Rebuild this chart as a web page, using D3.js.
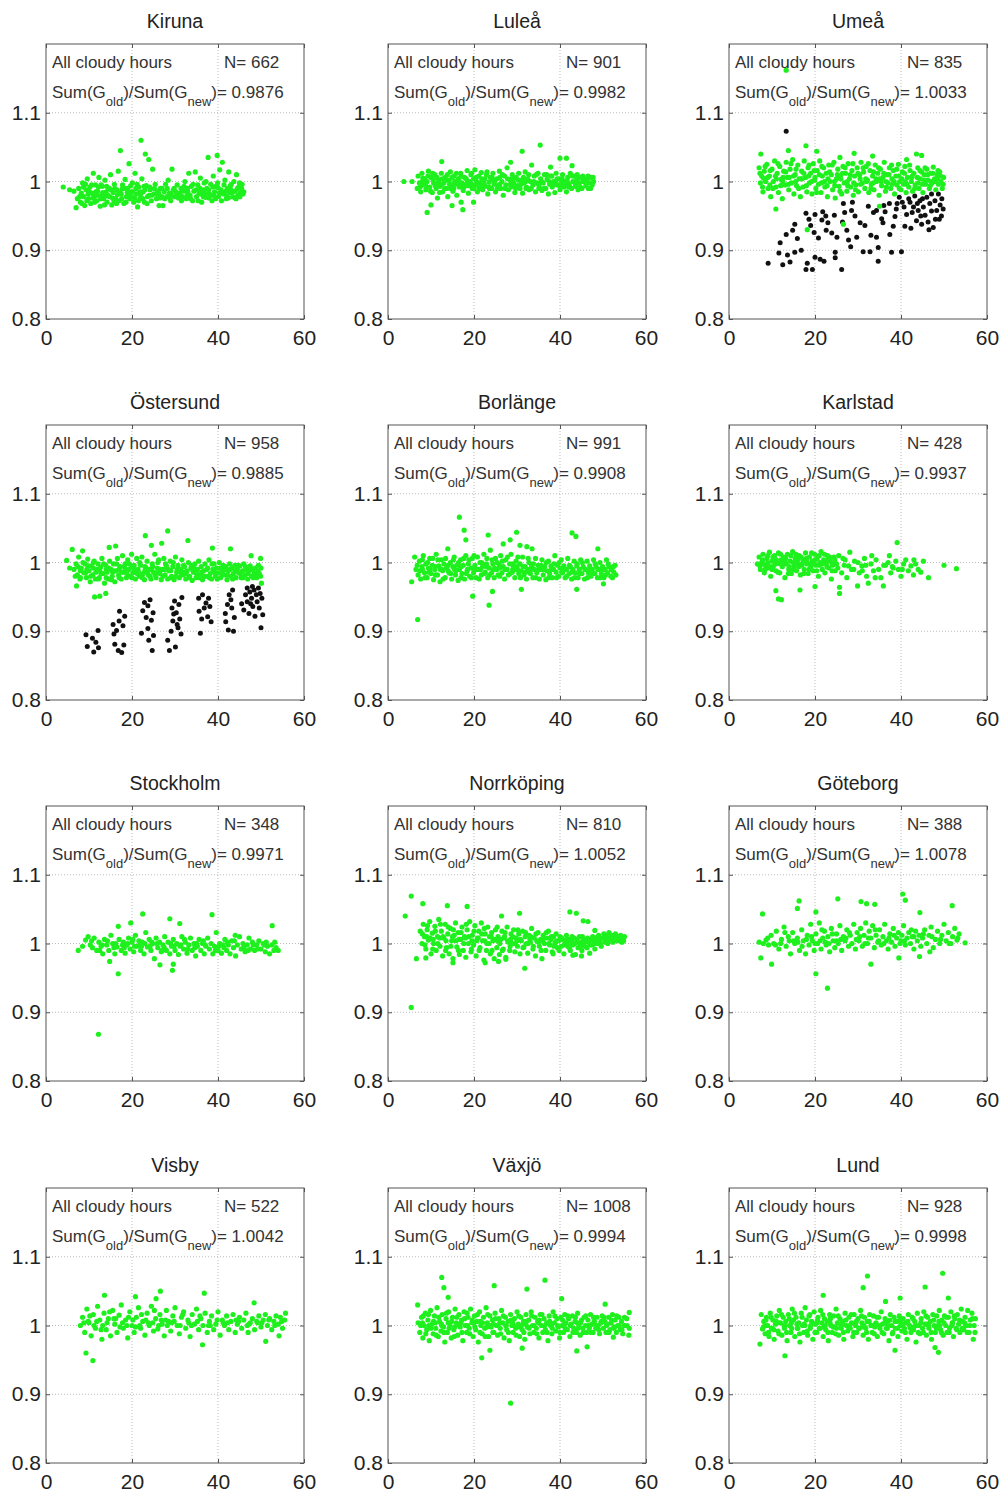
<!DOCTYPE html>
<html>
<head>
<meta charset="utf-8">
<script src="https://cdn.jsdelivr.net/npm/d3@7/dist/d3.min.js"></script>
<style>
  body { margin: 0; background: #fff; }
  svg { font-family: 'Liberation Sans', Arial, sans-serif; }
  .tick text { font-size: 21px; fill: #222; }
  .tick line { stroke: #555; }
  .grid line { stroke: #bbb; stroke-dasharray: 1,2; }
</style>
</head>
<body>
<div id="chart"></div>
<script>
'use strict';
const stations = ['Kiruna', 'Luleå', 'Umeå', 'Östersund', 'Borlänge', 'Karlstad', 'Stockholm', 'Norrköping', 'Göteborg', 'Visby', 'Växjö', 'Lund']
const nValues = [662, 901, 835, 958, 991, 428, 348, 810, 388, 522, 1008, 928]
const ratios = ['0.9876', '0.9982', '1.0033', '0.9885', '0.9908', '0.9937', '0.9971', '1.0052', '1.0078', '1.0042', '0.9994', '0.9998']
const xTicks = [0, 20, 40, 60]
const yTicks = [0.8, 0.9, 1, 1.1]
const xGrid = [20, 40]
const yGrid = [0.9, 1, 1.1]

// [x, Gold/Gnew]
const kirunaPts = [[4,.992],[5.5,.988],[6.5,.986],[7,.962],[7.3,.975],[7.6,.99],[8,.97],[8.2,.983],[8.5,.998],[8.8,.978],[9,.965],[9.3,.988],[9.6,1.004],[9.9,.975],[10.2,.992],[10.4,.968],[10.7,.983],[11,1.012],[11.2,.978],[11.5,.995],[11.8,.972],[12,.986],[12.3,1.006],[12.6,.964],[12.9,.98],[13.1,.993],[13.4,.975],[13.7,1.002],[14,.985],[14.2,.97],[14.5,.99],[14.8,.978],[15,1.01],[15.3,.966],[15.6,.984],[15.9,.996],[16.2,.975],[16.5,.988],[16.8,1.015],[17,.972],[17.3,1.045],[17.5,.982],[17.8,.995],[18.1,.968],[18.4,1.003],[18.7,.978],[19,.99],[19.3,1.026],[19.5,.975],[19.8,.985],[20.1,.998],[20.4,.97],[20.7,1.012],[21,.982],[21.3,.963],[21.6,.992],[21.9,.976],[22.1,1.06],[22.3,1.004],[22.6,.985],[22.9,.97],[23.1,1.04],[23.3,.994],[23.6,.978],[23.9,1.032],[24.2,.988],[24.5,.972],[24.8,1.018],[25.1,.982],[25.4,.996],[25.7,.975],[26,.986],[26.3,.965],[26.6,.99],[26.9,.978],[27.2,.965],[27.5,.985],[27.8,.996],[28.1,.978],[28.4,1.002],[28.7,.983],[29,.972],[29.3,1.018],[29.6,.988],[29.9,.978],[30.2,.985],[30.5,.995],[30.8,.976],[31.1,.983],[31.4,.99],[31.7,.978],[32,.986],[32.3,1.0],[32.6,.975],[32.9,.99],[33.2,1.012],[33.5,.98],[33.8,.993],[34.1,.972],[34.4,.986],[34.7,1.014],[35,.978],[35.3,.995],[35.6,.983],[35.9,1.005],[36.2,.97],[36.5,.988],[36.8,.998],[37.1,.977],[37.4,.99],[37.7,1.035],[38,.982],[38.3,.996],[38.6,.972],[38.9,1.008],[39.2,.985],[39.5,.993],[39.8,1.038],[40.1,.978],[40.4,1.017],[40.7,.988],[41,1.028],[41.3,.982],[41.6,1.002],[41.9,.975],[42.2,.99],[42.5,1.014],[42.8,.984],[43.1,.996],[43.4,.978],[43.7,1.0],[44,.986],[44.3,1.01],[44.6,.98],[44.9,.993],[45.2,.984],[45.5,.99],[45.8,.982],
  [8.7,.992],[9.8,.982],[10.9,.976],[11.6,.985],[12.8,.995],[13.9,.979],[14.7,.99],[15.8,.972],[16.6,.981],[17.7,.989],[18.9,.984],[19.9,.978],[20.9,.99],[21.8,.985],[22.8,.993],[24,.98],[26.2,.983],[28.8,.976],[31,.98],[33,.985],[35.8,.99],[36.9,.983],[37.9,.976],[39,.98],[40,.991],[41.1,.984],[42.1,.979],[43,.988],[44.2,.975],[45,.998]]
const kirunaFill = [[7.8,.978],[8.4,.968],[9.2,.996],[9.5,.972],[10,.986],[10.6,.995],[11.3,.97],[11.9,.98],[12.2,.992],[12.7,.975],[13.2,.984],[13.6,.966],[14.1,.993],[14.4,.98],[15.1,.988],[15.5,.976],[16,.99],[16.4,.968],[17.1,.984],[17.6,.975],[18.2,.99],[18.6,.97],[19.2,.982],[19.7,.994],[20.2,.985],[20.6,.976],[21.2,.996],[21.5,.972],[22,.982],[22.5,.975],[23,.988],[23.5,.968],[24.1,.992],[24.6,.98],[25.2,.99],[25.8,.982],[26.5,.976],[27,.99],[27.6,.975],[28.2,.99],[29.1,.982],[29.8,.99],[30.6,.98],[31.5,.972],[32.1,.993],[32.8,.98],[33.6,.975],[34.2,.996],[34.9,.988],[35.4,.972],[36,.982],[36.6,.978],[37.2,1.0],[37.8,.988],[38.4,.98],[38.8,.992],[39.4,.975],[39.9,.998],[40.3,.983],[40.8,.972],[41.4,.995],[41.8,.986],[42.4,.976],[42.9,.994],[43.5,.985],[44,.976],[44.5,.99],[45.1,.978],[45.6,.996],[46,.985]]
const lulePts = [[3.7,1.0],[5.6,1.0],[6.8,.99],[7,1.008],[7.3,.998],[7.6,.985],[7.9,1.012],[8.2,.995],[8.5,1.004],[8.8,.988],[9.1,.955],[9.1,1.0],[9.4,1.015],[9.7,.992],[10,.966],[10,1.006],[10.3,.984],[10.6,.998],[10.9,1.01],[11.2,.99],[11.5,.976],[11.8,1.002],[12.1,.993],[12.5,1.029],[12.4,1.012],[12.7,.985],[13,.998],[13.3,1.006],[13.6,.99],[13.9,.978],[14.2,1.002],[14.5,1.014],[14.9,.965],[14.8,.995],[15.1,.986],[15.4,1.008],[15.7,.996],[16,.98],[16.3,1.004],[16.6,.992],[17,.97],[17.4,.959],[16.9,1.012],[17.2,.998],[17.5,.987],[17.8,1.006],[18.1,.994],[18.4,1.016],[18.7,.983],[19,1.0],[19.3,1.01],[19.6,.99],[19.9,.97],[19.9,1.004],[20.2,1.017],[20.5,.995],[20.8,.985],[21.1,1.008],[21.4,.998],[21.7,1.013],[22,.988],[22.3,1.002],[22.6,.993],[22.9,1.01],[23.2,.982],[23.5,.999],[23.8,1.006],[24.1,.99],[24.4,1.012],[24.7,.996],[25,.985],[25.3,1.004],[25.6,.994],[25.9,1.015],[26.2,.99],[26.5,1.0],[26.8,.98],[27.1,1.008],[27.4,.995],[27.7,1.02],[28,.988],[28.3,1.003],[28.5,1.028],[28.6,.992],[28.9,1.01],[29.2,.998],[29.5,.984],[29.8,1.006],[30.1,.994],[30.4,1.012],[30.7,.99],[31,1.002],[31.2,1.044],[31.3,.983],[31.6,.998],[31.9,1.014],[32.2,.992],[32.5,1.004],[32.8,.988],[33.1,1.0],[33.4,1.024],[33.7,.995],[34,1.008],[34.3,.985],[34.6,.998],[34.9,1.012],[35.2,.992],[35.4,1.053],[35.5,1.004],[35.8,.987],[36.1,.998],[36.4,1.01],[36.7,.99],[37,1.003],[37.3,.982],[37.6,.996],[37.8,1.021],[37.9,1.008],[38.2,.992],[38.5,1.0],[38.8,.984],[39.1,1.012],[39.4,.995],[39.7,1.004],[40,1.034],[40,.988],[40.3,.998],[40.6,1.01],[40.9,.992],[41.2,1.0],[41.5,1.034],[41.5,.985],[41.8,1.006],[42.1,.996],[42.4,1.012],[42.8,1.023],[42.7,.99],[43,1.0],[43.3,1.008],[43.6,.993],[43.9,1.003],[44.2,.988],[44.5,.998],[44.8,1.006],[45.1,.99],[45.4,1.0],[45.7,1.004],[46,.994],[46.3,1.002],[46.6,.99],[46.9,.998],[47.2,1.006],[47.5,.995],[47.8,1.0],
  [8,1.0],[9,.992],[10.5,1.003],[11.5,.998],[12.5,.996],[13.5,1.002],[14.5,.99],[15.5,1.0],[16.5,1.004],[17.5,.996],[18.5,1.0],[19.5,.996],[20.5,1.006],[21.5,.992],[22.5,1.004],[23.5,.992],[24.5,1.002],[26,1.006],[29,.994],[32,1.0],[35,.996],[39,1.0],[42,.992],[44,1.01]]
const luleFill = [[7.5,.992],[8.1,1.005],[8.7,.996],[9.3,1.008],[9.9,.986],[10.4,1.012],[11,.994],[11.4,1.006],[12,.984],[12.6,1.004],[13.2,.99],[13.8,1.01],[14.3,.996],[14.9,1.006],[15.3,.99],[15.9,1.012],[16.4,.998],[17,1.008],[17.6,.992],[18.2,1.004],[18.8,.994],[19.4,1.012],[20,.99],[20.6,1.0],[21.2,.99],[21.8,1.004],[22.4,.996],[23,1.014],[23.6,.99],[24.2,1.006],[24.8,1.0],[25.4,.99],[26,.996],[26.6,1.01],[27.2,.99],[27.8,1.004],[28.4,.996],[29.1,1.004],[29.7,.99],[30.3,1.002],[30.9,.996],[31.5,1.006],[32.1,.99],[32.7,1.01],[33.3,.99],[33.9,1.0],[34.5,1.01],[35.1,.99],[35.7,1.0],[36.3,.99],[36.9,1.01],[37.5,1.0],[38.1,1.008],[38.7,.996],[39.3,1.004],[39.9,.994],[40.5,1.004],[41.1,.994],[41.7,1.0],[42.3,.992],[42.9,1.008],[43.5,.998],[44.1,1.0],[44.7,.992],[45.3,1.008],[45.9,1.0],[46.5,1.008],[47.1,.99],[47.7,1.006]]
const umeaPts = [[7.4,1.04],[7,1.02],[7.3,.998],[7.6,1.008],[7.9,.985],[8.2,1.015],[8.5,1.0],[8.8,1.025],[9.1,.99],[9.4,1.008],[9.7,.978],[10,1.018],[10.3,1.0],[10.6,1.03],[10.9,.96],[10.9,.992],[11.2,1.012],[11.5,.984],[11.8,1.022],[12.1,1.003],[12.4,.975],[12.7,1.015],[13,.995],[13.3,1.162],[13.3,1.028],[13.6,1.006],[13.8,1.045],[13.9,.988],[14.2,1.018],[14.5,.998],[14.8,1.032],[15.1,.982],[15.4,1.01],[15.7,.994],[16,1.024],[16.3,1.004],[16.6,.978],[16.9,1.015],[17.2,.992],[17.5,1.03],[17.9,1.052],[17.8,1.006],[18.1,.985],[18.2,.93],[18.4,1.02],[18.7,.998],[19,1.012],[19.3,.982],[19.6,1.026],[19.9,1.002],[20.2,.99],[20.4,1.044],[20.5,1.016],[20.8,.996],[21.1,1.03],[21.4,.984],[21.7,1.008],[22,1.02],[22.3,.992],[22.6,1.012],[22.9,.978],[23.2,1.024],[23.5,1.0],[23.8,1.01],[24.1,.988],[24.4,1.028],[24.7,.976],[25,1.004],[25.3,1.018],[25.6,.993],[25.8,1.035],[25.9,1.008],[26.2,.982],[26.5,1.022],[26.6,.938],[26.8,.998],[27.1,1.012],[27.4,.986],[27.7,1.026],[28,1.004],[28.3,.992],[28.6,1.016],[28.9,.98],[29.1,1.041],[29.2,1.008],[29.5,.995],[29.8,1.02],[30.1,.985],[30.4,1.01],[30.7,1.028],[31,.998],[31.3,1.014],[31.6,.99],[31.9,1.022],[32.2,1.002],[32.5,.984],[32.8,1.016],[33.1,.996],[33.4,1.037],[33.4,1.008],[33.7,.988],[34,1.024],[34.3,1.0],[34.6,1.012],[34.9,.98],[35,.964],[35.2,1.018],[35.5,.994],[35.8,1.006],[36.1,1.028],[36.4,.986],[36.7,1.01],[37,.998],[37.3,1.02],[37.6,.99],[37.9,1.004],[38.2,1.016],[38.5,.982],[38.8,1.008],[39.1,.995],[39.4,1.025],[39.7,1.0],[40,.988],[40.3,1.014],[40.6,.996],[40.9,1.022],[41.3,1.032],[41.2,.984],[41.5,1.006],[41.8,.992],[42.1,1.016],[42.4,1.0],[42.7,.986],[43,1.012],[43.6,1.04],[43.3,.995],[43.9,1.02],[44.2,.99],[44.5,1.004],[44.8,1.038],[44.8,1.014],[45.1,.984],[45.4,1.01],[45.7,.996],[46,1.018],[46.3,1.002],[46.6,.99],[46.9,1.012],[47.2,.998],[47.5,1.021],[47.8,1.004],[48.1,.988],[48.4,1.01],[48.7,.996],[49,1.014],[49.3,1.0],[49.6,.99],[49.9,1.006],
  [8,1.005],[9.5,.995],[11,1.004],[12.5,1.0],[14,1.006],[15.5,1.0],[17,1.004],[18.5,1.008],[20,1.006],[21.5,.998],[23,1.004],[24.5,1.0],[26,1.004],[27.5,1.0],[29,.998],[30.5,1.004],[32,1.0],[33.5,.998],[35,1.004],[36.5,1.0],[38,.996],[39.5,1.008],[41,1.0],[42.5,1.006],[44,.998],[45.5,1.002],[47,1.0],[48.5,1.004]]
const umeaFill = [[7.2,1.012],[7.8,.992],[8.4,1.022],[9,1.006],[9.6,1.016],[10.2,.99],[10.8,1.008],[11.4,1.026],[12,.994],[12.6,1.006],[13.2,1.014],[13.8,.996],[14.4,1.026],[15,1.008],[15.6,1.018],[16.2,.99],[16.8,1.004],[17.4,1.012],[18,.994],[18.6,1.024],[19.2,1.0],[19.8,1.016],[20.4,.984],[21,1.01],[21.6,1.022],[22.2,1.0],[22.8,.994],[23.4,1.014],[24,1.024],[24.6,.994],[25.2,1.01],[25.8,.986],[26.4,1.012],[27,1.02],[27.6,.994],[28.2,1.01],[28.8,1.026],[29.4,.988],[30,1.012],[30.6,.996],[31.2,1.02],[31.8,1.004],[32.4,1.026],[33,.99],[33.6,1.014],[34.2,1.004],[34.8,1.02],[35.4,1.0],[36,1.012],[36.6,.992],[37.2,1.01],[37.8,1.024],[38.4,1.0],[39,1.018],[39.6,.99],[40.2,1.004],[40.8,1.012],[41.4,.996],[42,1.024],[42.6,1.008],[43.2,.99],[43.8,1.006],[44.4,1.016],[45,.996],[45.6,1.02],[46.2,1.01],[46.8,.994],[47.4,1.012],[48,1.0],[48.6,1.016],[49.2,1.008],[49.8,.996]]
const umeaBlack = [[13.3,1.073],[9.1,.881],[11.6,.896],[11.9,.911],[12.5,.879],[13.3,.923],[13.6,.893],[14.2,.883],[14.8,.929],[15.3,.938],[15.3,.897],[15.9,.917],[17.9,.954],[17.9,.872],[18.2,.881],[18.6,.945],[19,.936],[19.4,.872],[19.8,.926],[20,.89],[20,.952],[20.8,.918],[21.2,.887],[21.6,.944],[21.8,.956],[22.1,.884],[22.6,.929],[23.9,.925],[24.5,.951],[24.7,.897],[24.7,.889],[25.1,.919],[26.2,.872],[26.4,.941],[26.6,.968],[27.4,.929],[27.8,.915],[28.3,.905],[28.5,.958],[28.7,.97],[29.7,.919],[31.2,.898],[31.6,.936],[32.4,.964],[32.8,.898],[33,.922],[34.3,.919],[34.3,.958],[34.7,.884],[34.7,.904],[35.5,.946],[36.3,.956],[37.3,.968],[37.4,.923],[37.8,.897],[38.2,.935],[38.6,.949],[39.1,.968],[39.6,.977],[40.1,.898],[40.7,.963],[40.9,.935],[41.3,.952],[42.1,.97],[42.3,.932],[42.9,.963],[43.2,.979],[43.6,.943],[44,.958],[44.4,.972],[44.8,.938],[45.2,.963],[45.6,.951],[46,.977],[46.3,.941],[46.7,.968],[47.1,.957],[47.5,.933],[47.9,.972],[48.3,.958],[48.7,.982],[48.9,.945],[49.1,.966],[47.1,.982],[49.5,.975],[49.8,.96],[45,.975],[43.8,.968],[41.8,.975],[40.3,.97],[38.9,.96],[36,.965],[35.8,.94],[30.5,.94],[29.3,.95],[23,.94],[22.5,.95],[16.8,.9],[26.9,.955],[33.6,.955],[46.5,.93],[48,.945],[49.4,.95],[44.6,.95],[42.6,.955]]
const ostersundPts = [[4.8,1.003],[6.1,1.019],[7.1,.966],[6.5,.99],[7,.998],[7.3,.982],[7.6,1.008],[7.9,.976],[8.2,.992],[8.5,1.017],[8.8,.985],[9.1,.998],[9.4,.978],[9.7,1.005],[10,.988],[10.3,.972],[10.6,.995],[10.9,.982],[11.2,1.002],[11.3,.95],[11.5,.976],[11.8,.99],[12.1,.998],[12.5,.951],[12.4,.978],[12.7,.993],[13,1.006],[13.3,.984],[13.6,.97],[13.9,.955],[13.9,.996],[14.2,.986],[14.7,1.022],[14.5,.976],[14.8,1.002],[15.1,.99],[15.4,.98],[15.7,.998],[16.2,1.024],[16,.972],[16.3,.988],[16.6,1.006],[16.9,.982],[17.2,.994],[17.5,.976],[17.8,1.01],[18.1,.986],[18.4,.998],[18.7,.978],[19,1.004],[19.3,.99],[19.6,.98],[19.9,1.012],[20.2,.985],[20.5,.996],[20.8,.976],[21.1,1.006],[21.4,.99],[21.7,.98],[22,.996],[22.3,1.008],[22.6,.984],[23.1,1.039],[22.9,.975],[23.2,.993],[23.5,1.002],[23.8,.982],[24.1,.99],[24.5,1.025],[24.4,.976],[24.7,.998],[25,.986],[25.3,1.012],[25.6,.978],[25.9,.992],[26.2,1.004],[26.5,.984],[26.9,1.028],[26.8,.975],[27.1,.99],[27.4,1.006],[27.7,.982],[28,.995],[28.3,1.046],[28.3,.976],[28.6,.988],[28.9,1.002],[29.2,.98],[29.5,.994],[29.8,.975],[30.1,1.008],[30.4,.986],[30.7,.996],[31,.978],[31.3,.99],[31.6,1.004],[31.9,.982],[32.2,.994],[32.5,.976],[33,1.032],[32.8,.988],[33.1,1.0],[33.4,.98],[33.7,.992],[34,.974],[34.3,.986],[34.6,.998],[34.9,.978],[35.2,.99],[35.5,1.002],[35.8,.982],[36.1,.994],[36.4,.975],[36.7,.988],[37,.998],[37.3,.98],[37.6,.992],[37.9,1.004],[38.2,.984],[38.7,1.021],[38.5,.976],[38.8,.99],[39.1,.998],[39.4,.98],[39.7,.992],[40,.985],[40.3,1.0],[40.6,.978],[40.9,.99],[41.2,.996],[41.5,.982],[41.8,.994],[42.1,.975],[42.4,.988],[42.9,1.02],[42.7,.998],[43,.98],[43.3,.992],[43.6,.984],[43.9,.996],[44.2,.978],[44.5,.99],[44.8,.985],[45.1,.995],[45.4,.978],[45.7,.988],[46,.998],[46.3,.982],[46.6,.99],[46.9,.976],[47.2,.988],[47.7,1.01],[47.5,.995],[47.8,.98],[48.1,.99],[48.4,.984],[48.7,.992],[49,.978],[49.3,.988],[49.9,1.006],[49.6,.984],[50.1,.97],[50,.992],
  [8,.988],[9.5,.99],[11,.992],[12.5,.988],[14,.99],[15.5,.986],[17,.99],[18.5,.99],[20,.994],[21.5,.986],[23,.988],[24.5,.99],[26,.986],[27.5,.99],[29,.988],[30.5,.99],[32,.986],[34,.99]]
const ostersundFill = [[5.5,.992],[6.8,.98],[7.4,.994],[8,.978],[8.6,1.0],[9.2,.985],[9.8,.995],[10.4,.98],[11,1.0],[11.6,.986],[12.2,.976],[12.8,.984],[13.4,.998],[14,.978],[14.6,.992],[15.2,.975],[15.8,.988],[16.4,.998],[17,.978],[17.6,.986],[18.2,.994],[18.8,.984],[19.4,.998],[20,.978],[20.6,.99],[21.2,.984],[21.8,1.0],[22.4,.978],[23,.994],[23.6,.986],[24.2,.98],[24.8,.994],[25.4,.982],[26,1.0],[26.6,.99],[27.2,.98],[27.8,.998],[28.4,.99],[29,.978],[29.6,1.0],[30.2,.98],[30.8,.99],[31.4,.984],[32,.996],[32.6,.984],[33.2,.978],[33.8,.996],[34.4,.992],[35,.984],[35.6,.978],[36.2,.986],[36.8,.98],[37.4,.99],[38,.978],[38.6,.998],[39.2,.986],[39.8,.976],[40.4,.992],[41,.984],[41.6,.99],[42.2,.982],[42.8,.99],[43.4,.976],[44,.988],[44.6,.996],[45.2,.984],[45.8,.978],[46.4,.994],[47,.984],[47.6,.99],[48.2,.978],[48.8,.984],[49.4,.996],[49.9,.98]]
const ostersundBlack = [[9.3,.895],[9.6,.878],[10.8,.89],[11.1,.87],[11.6,.884],[12.1,.901],[12.2,.876],
  [15.6,.91],[15.8,.896],[16.4,.901],[16,.881],[16.8,.872],[17,.915],[17.1,.929],[17.6,.869],[18.1,.88],[17.9,.908],[18.3,.922],
  [22.2,.897],[22.5,.93],[22.9,.942],[23.3,.92],[23.7,.904],[23.9,.887],[24.2,.946],[24.5,.916],[24.7,.872],[24.9,.927],[25,.894],[23.7,.937],
  [28.3,.887],[28.7,.872],[29.1,.9],[29.3,.934],[29.5,.915],[29.9,.944],[30.1,.877],[30.3,.927],[30.7,.905],[30.9,.939],[31.1,.918],[31.4,.896],[31.6,.949],[30.5,.91],[29.7,.925],
  [35.5,.948],[35.6,.929],[35.9,.897],[36.4,.953],[36.8,.934],[37.2,.941],[37.6,.921],[37.8,.948],[38.1,.936],[38.4,.914],[36.2,.918],
  [41.7,.926],[41.8,.914],[42.2,.939],[42.4,.902],[42.6,.953],[43,.946],[43.2,.934],[43.4,.96],[43.8,.92],[43.6,.9],
  [45.5,.94],[46,.931],[46.4,.953],[46.8,.943],[47.2,.926],[47.4,.957],[47.8,.948],[48.1,.936],[48.4,.96],[48.6,.922],[48.9,.953],[49.1,.943],[49.4,.963],[49.6,.934],[50,.905],[50.2,.948],[50.4,.924],[48,.965],[46.8,.963],[49.8,.955],[47.6,.94]]
const borlangePts = [[5.5,.972],[6.2,1.008],[6.9,.917],[6.5,.99],[7,.982],[7.3,1.002],[7.6,.976],[7.9,.994],[8.2,1.01],[8.5,.985],[8.8,.998],[9.1,.978],[9.4,.992],[9.7,1.006],[10,.984],[10.3,.996],[10.6,.975],[10.9,.99],[11.2,1.012],[11.5,.982],[11.8,.995],[12.1,.972],[12.4,1.004],[12.7,.988],[13,.998],[13.3,.978],[13.6,.992],[13.9,1.02],[14.2,.985],[14.5,1.0],[14.8,.976],[15.1,.994],[15.4,1.008],[15.7,.982],[16,.996],[16.6,1.066],[16.3,.974],[16.6,.99],[16.9,1.004],[17.7,1.047],[17.2,.984],[17.5,.996],[17.8,.976],[18.1,1.033],[18.1,1.01],[18.4,.988],[18.7,.998],[19,.98],[19.7,.951],[19.3,.992],[19.6,1.006],[19.9,.985],[20.2,.996],[20.5,.978],[20.8,1.008],[21.1,.99],[21.4,1.0],[21.7,.982],[22,.994],[22.3,1.012],[22.6,.986],[22.9,.998],[23.3,1.04],[23.5,.938],[23.2,.978],[23.5,.992],[23.8,1.018],[24.3,.958],[24.1,.985],[24.4,.998],[24.7,.978],[25,1.006],[25.3,.99],[25.6,.982],[25.9,.996],[26.2,1.01],[26.8,1.027],[26.5,.985],[26.8,.994],[27.1,.976],[27.4,1.004],[27.7,.99],[28.4,1.033],[28,.982],[28.3,.998],[28.6,1.012],[28.9,.986],[29.2,.995],[29.9,1.044],[29.5,.978],[29.8,1.002],[30.1,.99],[30.7,1.025],[30.4,.984],[31,.961],[30.7,.998],[31,.988],[31.3,1.008],[31.6,.982],[31.9,.994],[32.3,1.023],[32.2,.976],[32.5,.99],[32.8,1.0],[33.5,1.02],[33.1,.984],[33.4,.995],[33.7,.978],[34,.99],[34.3,1.006],[34.6,.985],[34.9,.996],[35.2,.976],[35.5,.99],[35.8,1.004],[36.1,.982],[36.4,.994],[36.7,.975],[37,.988],[37.3,1.002],[37.6,.984],[37.9,.995],[38.2,.978],[38.5,.99],[38.8,1.01],[39.1,.986],[39.4,.996],[39.7,.98],[40,.992],[40.3,1.004],[40.6,.985],[40.9,.995],[41.2,.978],[41.5,.99],[41.8,1.006],[42.1,.984],[42.4,.994],[42.8,1.043],[42.7,.976],[43,.99],[43.7,1.038],[43.3,1.002],[43.6,.985],[43.9,.961],[43.9,.995],[44.2,.978],[44.5,.99],[44.8,1.004],[45.1,.984],[45.4,.994],[45.7,.976],[46,.99],[46.3,1.002],[46.6,.985],[46.9,.995],[47.2,.98],[47.5,.99],[47.8,1.004],[48.1,.984],[48.8,1.02],[48.4,.994],[48.7,.978],[49,.99],[49.3,1.0],[50.1,.969],[49.6,.984],[49.9,.994],[50.2,.978],[50.5,.99],[50.8,1.004],[51.1,.985],[51.4,.994],[51.9,.99],[52.2,.978],[52.5,.986],[52.8,.996],[53,.982],
  [8,.99],[9.5,.986],[11,.994],[12.5,.99],[14,.988],[15.5,.99],[17,.994],[18.5,.99],[20,.99],[21.5,.99],[23,.994],[24.5,.99],[26,.992],[27.5,.99],[29,.99],[30,.994]]
const borlangeFill = [[6.8,.996],[7.4,.988],[8,1.004],[8.6,.978],[9.2,1.0],[9.8,.99],[10.4,1.006],[11,.982],[11.6,1.004],[12.2,.99],[12.8,.976],[13.4,1.006],[14,.996],[14.6,.984],[15.2,1.004],[15.8,.988],[16.4,1.0],[17,.978],[17.6,1.006],[18.2,.984],[18.8,1.004],[19.4,.978],[20,1.01],[20.6,.99],[21.2,.976],[21.8,1.0],[22.4,.984],[23,1.006],[23.6,.982],[24.2,1.004],[24.8,.992],[25.4,1.0],[26,.98],[26.6,1.002],[27.2,.99],[27.8,1.008],[28.4,.984],[29,.998],[29.6,.99],[30.2,1.008],[30.8,.978],[31.4,.994],[32,.986],[32.6,1.006],[33.2,.99],[33.8,.998],[34.4,.978],[35,.99],[35.6,.996],[36.2,.99],[36.8,1.0],[37.4,.978],[38,.99],[38.6,.998],[39.2,.978],[39.8,1.0],[40.4,.986],[41,.99],[41.6,.98],[42.2,.996],[42.8,.986],[43.4,.978],[44,.998],[44.6,.984],[45.2,1.0],[45.8,.99],[46.4,.978],[47,.99],[47.6,.984],[48.2,.998],[48.8,.99],[49.4,.978],[50,.99],[50.6,.982],[51.2,.998],[51.8,.98],[52.4,.994]]
const karlstadPts = [[6.6,.998],[7,1.008],[7.3,.99],[7.6,1.0],[7.9,1.012],[8.2,.985],[8.5,.996],[8.8,1.006],[9.1,.992],[9.4,1.015],[9.7,.98],[10,1.002],[10.3,.994],[10.6,1.01],[10.9,.959],[10.9,.988],[11.2,.999],[11.5,.947],[11.5,1.014],[11.8,.985],[12.2,.946],[12.1,1.004],[12.4,.994],[12.7,1.008],[13,.978],[13.3,.998],[13.6,1.012],[13.9,.99],[14.2,1.002],[14.5,.984],[14.8,1.016],[15.1,.995],[15.4,1.006],[15.7,.988],[16,.998],[16.5,.96],[16.3,1.01],[16.6,.982],[16.9,.996],[17.2,1.004],[17.5,.99],[17.8,1.014],[18.1,.998],[18.4,.984],[18.7,1.008],[19,.994],[19.3,1.002],[19.6,.988],[20,.965],[19.9,1.012],[20.2,.996],[20.5,1.006],[20.8,.98],[21.1,1.0],[21.4,1.016],[21.7,.99],[22,1.004],[22.3,.985],[22.6,.998],[22.9,1.01],[23.2,.992],[23.5,1.002],[23.8,.976],[24.1,.996],[24.4,1.008],[24.7,.988],[25,.998],[25.7,.964],[25.7,.955],[25.5,1.01],[26.2,.985],[26.8,.996],[27.4,.978],[28.1,1.015],[28.5,.99],[29.2,1.002],[29.9,.966],[30.3,.985],[30.9,.995],[31.5,1.006],[32,.98],[32.4,.97],[33,.998],[33.6,.988],[34.2,1.004],[34.8,.99],[35.3,.978],[35.9,.966],[36.4,.996],[37,1.0],[37.6,.985],[38.2,.992],[38.8,1.002],[39.1,1.029],[39.4,.99],[40,.98],[40.6,.998],[41.1,1.004],[41.7,.988],[42.3,.995],[42.9,.982],[43.4,.998],[44,.99],[44.6,.986],[45.2,1.002],[46.4,.978],[50,.996],[52.9,.991],
  [8,.998],[9,1.0],[10,.99],[11,1.004],[12,.998],[13,1.002],[14,.994],[15,1.0],[16,1.004],[17,.998],[18,1.002],[19,.998],[20,1.004],[21,.996],[22,1.0],[23,1.004],[24,.998],[26.5,1.006],[27.8,.995],[30,1.0],[31,.988],[33.2,1.01],[36,.996],[38,.994]]
const karlstadFill = [[7.2,.995],[7.8,1.004],[8.4,.99],[9,1.01],[9.6,.994],[10.2,1.008],[10.8,.998],[11.4,.986],[12,1.012],[12.6,.998],[13.2,1.006],[13.8,.984],[14.4,1.01],[15,.99],[15.6,1.012],[16.2,.994],[16.8,1.008],[17.4,.984],[18,1.006],[18.6,.99],[19.2,1.014],[19.8,.998],[20.4,.988],[21,1.01],[21.6,.998],[22.2,1.012],[22.8,.994],[23.4,1.008],[24,.988],[24.6,1.004],[25.3,.992],[27,1.004],[29,.99],[31.8,.996],[34,.978],[37.3,1.01],[40.3,.99],[43,1.004]]
const stockholmPts = [[7.5,.99],[8.5,.996],[9.2,1.005],[9.8,1.01],[10.3,.998],[10.8,.994],[11.2,1.008],[11.8,.99],[12.2,.868],[12.3,1.002],[12.8,.996],[13.2,.985],[13.6,1.006],[14.1,.998],[14.8,.974],[14.6,.99],[15.1,1.012],[15.5,1.0],[16,.985],[16.8,.956],[16.8,1.025],[16.5,.995],[17,1.006],[17.5,.99],[18,1.002],[18.4,.986],[18.8,.998],[19.2,1.008],[19.7,1.03],[19.6,.992],[20,1.002],[20.4,.988],[20.8,1.012],[21.2,.996],[21.6,1.004],[22,.99],[22.5,1.043],[22.4,1.002],[22.8,.985],[23.2,1.016],[23.6,.995],[24,1.006],[24.4,.99],[24.8,1.0],[25.2,.978],[25.6,1.008],[26,.994],[26.5,.969],[26.4,1.002],[26.8,.988],[27.2,.998],[27.6,1.01],[28,.99],[28.8,1.036],[28.4,1.002],[28.8,.985],[29.2,.996],[29.4,.961],[29.6,.97],[29.6,1.006],[30,.99],[30.4,1.0],[31.1,1.029],[30.8,.984],[31.2,.996],[31.6,1.01],[32,.992],[32.4,1.002],[32.8,.986],[33.2,.998],[33.6,1.008],[34,.99],[34.4,1.0],[34.8,.982],[35.2,.996],[35.6,1.006],[36,.99],[36.4,1.0],[36.8,.985],[37.2,.996],[37.6,1.008],[38,.992],[38.6,1.042],[38.4,1.0],[38.8,.985],[39.2,.996],[39.6,1.016],[40,.99],[40.4,1.0],[40.8,.986],[41.2,.998],[41.6,1.006],[42,.99],[42.4,.998],[42.8,.985],[43.2,1.004],[43.6,.994],[44.1,.982],[44,1.012],[44.5,.998],[45,1.01],[45.4,.992],[45.8,1.0],[46.3,.988],[46.8,.998],[47.2,1.008],[47.6,.992],[48,1.002],[48.5,.99],[49,.998],[49.5,1.004],[50,.992],[50.5,1.0],[51,.988],[51.5,.996],[52,.985],[52.6,1.026],[52.5,.998],[53,.99],[53.5,.994],[54,.99],
  [13,.998],[15.8,.994],[17.8,.998],[19,1.0],[20.6,.996],[21.8,.998],[23,1.0],[24.2,.996],[25.8,1.0],[27.5,.994],[29,1.0],[31.4,.998],[33,.992],[35,1.0],[37,.998],[40.2,.996],[42.2,1.002],[47,.99],[49.2,.992],[51.2,1.002]]
const stockholmFill = [[10.6,1.004],[12.5,.99],[14.3,1.004],[16.2,1.0],[18.2,.994],[20.2,1.006],[22.2,.996],[24.6,1.002],[27,.99],[29.8,.996],[32.2,1.006],[34.6,.994],[36.6,1.004],[39.4,.99],[41.4,.994],[43.8,1.004],[46,.994],[48.2,.998],[50.8,.998],[53.2,1.002]]
const norrkopingPts = [[4,1.04],[5.4,1.069],[5.4,.907],[8.1,1.058],[7.5,1.018],[7.9,1.0],[8.2,1.028],[8.5,1.01],[8.8,.992],[9.1,1.02],[9.4,1.005],[9.7,1.032],[10,.985],[10.3,1.015],[10.6,1.0],[10.9,1.025],[11.2,.99],[11.5,1.01],[11.8,1.035],[12.1,.996],[12.4,1.018],[12.7,.982],[13,1.008],[13.3,1.028],[13.8,1.055],[13.6,.994],[13.9,1.014],[14.2,.985],[14.5,1.022],[14.8,1.004],[15.1,.978],[15.4,1.012],[15.7,1.03],[16,.995],[16.3,1.016],[16.6,.984],[16.9,1.006],[17.2,1.024],[17.5,.99],[17.8,1.01],[18.4,1.054],[18.1,.98],[18.4,1.02],[18.7,1.0],[19,1.032],[19.3,.988],[19.6,1.012],[19.9,.998],[20.2,1.026],[20.5,.982],[20.8,1.008],[21.1,1.018],[21.4,.994],[21.7,1.03],[22,1.004],[22.3,.976],[22.6,1.014],[22.9,.99],[23.2,1.024],[23.5,1.0],[23.8,.985],[24.1,1.016],[24.4,1.004],[24.7,.978],[25,1.02],[25.3,.994],[25.6,1.01],[26.4,1.04],[25.9,.984],[26.2,1.006],[26.5,1.018],[26.8,.992],[27.1,1.01],[27.4,.98],[27.7,1.024],[28,1.002],[28.3,.99],[28.6,1.014],[28.9,1.0],[29.2,1.02],[29.5,.988],[29.8,1.008],[30.6,1.044],[30.1,.996],[30.4,1.014],[30.7,.985],[31,1.004],[31.8,.964],[31.3,1.018],[31.6,.995],[31.9,1.01],[32.2,1.0],[32.5,.986],[32.8,1.012],[33.1,1.002],[33.4,1.022],[33.7,.992],[34,1.008],[34.3,.982],[34.6,1.004],[34.9,1.016],[35.2,.996],[35.5,1.006],[35.8,.978],[36.1,1.012],[36.4,1.0],[36.7,.99],[37,1.008],[37.3,1.018],[37.6,.998],[37.9,1.006],[38.2,.988],[38.5,1.01],[38.8,1.0],[39.1,1.014],[39.4,.994],[39.7,1.004],[40,1.01],[40.3,.996],[40.6,1.006],[40.9,.985],[41.2,1.002],[41.5,1.012],[42.3,1.046],[41.8,.996],[42.1,1.006],[42.4,.99],[42.7,1.004],[43.8,1.044],[43,.998],[43.3,1.008],[43.6,.984],[43.9,1.002],[44.2,.994],[44.5,1.01],[44.8,1.0],[45.4,1.033],[45.1,.99],[45.4,1.004],[45.7,.996],[46.5,1.032],[46,1.006],[46.3,.994],[46.6,1.002],[46.9,.986],[47.2,1.006],[47.5,.998],[48.1,1.019],[47.8,1.004],[48.1,.992],[48.4,1.008],[48.7,1.0],[49,1.012],[49.3,1.004],[49.6,.996],[49.9,1.008],[50.2,1.014],[50.5,1.002],[50.8,1.01],[51.1,1.0],[51.4,1.016],[51.7,1.006],[52,1.012],[52.3,1.002],[52.6,1.008],[52.9,1.014],[53.2,1.004],[53.5,1.01],[53.8,1.006],[54.1,1.012],[54.4,1.002],[54.7,1.008],[55,1.01],
  [9,1.01],[10.5,1.006],[12,1.008],[13.5,1.004],[15,1.01],[16.5,1.006],[18,1.008],[19.5,1.004],[21,1.008],[22.5,1.004],[24,1.01],[25.5,1.004],[27,1.008],[28.5,1.006],[30,1.004],[33,1.006],[36,1.004],[39,1.002],[42,1.0],[45,1.002],[48,1.0],[51,1.006],[54,1.004],
  [6.6,.978],[8.8,.979],[15.1,.972],[22.6,.972],[25.7,.974],[27.4,.977],[38.4,.985],[43,.983],[45,.982]]
const norrkopingFill = [[8,1.014],[8.6,.998],[9.2,1.026],[9.8,1.008],[10.4,.992],[11,1.018],[11.6,1.0],[12.2,1.028],[12.8,1.01],[13.4,.99],[14,1.024],[14.6,.996],[15.2,1.02],[15.8,1.004],[16.4,.99],[17,1.016],[17.6,1.0],[18.2,1.028],[18.8,1.01],[19.4,.992],[20,1.018],[20.6,1.004],[21.2,.99],[21.8,1.014],[22.4,1.022],[23,1.0],[23.6,1.01],[24.2,.99],[24.8,1.006],[25.4,1.024],[26,1.0],[26.6,.99],[27.2,1.016],[27.8,1.004],[28.4,.996],[29,1.01],[29.6,1.0],[30.2,1.02],[30.8,1.006],[31.4,.994],[32,1.016],[32.6,1.0],[33.2,1.01],[33.8,.996],[34.4,1.014],[35,1.002],[35.6,.99],[36.2,1.008],[36.8,1.016],[37.4,1.0],[38,1.01],[38.6,.996],[39.2,1.004],[39.8,.99],[40.4,1.008],[41,.998],[41.6,1.006],[42.2,.994],[42.8,1.01],[43.4,1.0],[44,1.006],[44.6,.996],[45.2,1.01],[45.8,1.002],[46.4,1.008],[47,.998],[47.6,1.01],[48.2,1.004],[48.8,1.01],[49.4,1.0],[50,1.008],[50.6,1.012],[51.2,1.004],[51.8,1.01],[52.4,1.006],[53,1.012],[53.6,1.004],[54.2,1.008],[54.8,1.004]]
const goteborgPts = [[7.4,.979],[7.8,1.043],[7,1.002],[8,1.0],[8.6,1.005],[9.2,.998],[9.9,.97],[9.8,1.012],[10.4,1.0],[11,1.018],[11.6,.992],[12.2,1.006],[12.8,1.024],[13.3,.996],[13.8,1.01],[14.3,.985],[14.8,1.016],[15.3,1.0],[15.9,1.051],[15.9,1.008],[16.3,1.062],[16.4,.99],[16.9,1.02],[17.3,1.004],[17.8,.985],[18.2,1.012],[18.6,.998],[19,1.028],[19.4,1.004],[19.8,.99],[20.2,1.046],[20.2,.956],[20.2,1.014],[20.6,1.0],[21,1.03],[21.4,.992],[21.8,1.008],[22.2,1.018],[22.9,.935],[22.6,.998],[23,1.01],[23.4,.988],[23.8,1.022],[24.2,1.004],[24.6,.994],[25,1.014],[25.3,1.065],[25.4,1.0],[25.8,1.026],[26.2,.99],[26.6,1.01],[27,1.004],[27.4,1.02],[27.8,.996],[28.2,1.012],[28.6,1.0],[29,1.028],[29.4,.992],[29.8,1.016],[30.2,1.004],[30.7,1.061],[30.6,1.022],[31,.996],[31.4,1.012],[31.8,1.03],[32,1.058],[32.2,1.0],[32.6,1.018],[33,.97],[33,1.008],[33.4,1.026],[33.9,1.057],[33.8,.994],[34.2,1.012],[34.6,1.002],[35,1.02],[35.4,.998],[35.8,1.01],[36.2,1.028],[36.6,1.004],[37,.992],[37.4,1.014],[37.8,1.002],[38.2,1.022],[38.6,.996],[39,1.008],[39.5,.979],[39.4,1.016],[39.8,1.0],[40.4,1.072],[40.2,1.012],[41,1.063],[40.6,1.026],[41,.998],[41.4,1.008],[41.8,1.016],[42.2,1.0],[42.6,1.01],[43,.992],[43.4,1.018],[43.8,1.004],[44.3,.981],[44.4,1.045],[44.2,1.012],[44.6,.996],[45,1.008],[45.5,1.02],[46,1.0],[46.7,.988],[46.5,1.012],[47,1.024],[47.5,.994],[48,1.006],[48.5,1.018],[49,1.0],[49.5,1.012],[50,1.028],[50.5,1.004],[51,1.016],[51.9,1.055],[51.6,1.0],[52,1.01],[52.5,1.022],[53,1.005],[53.5,1.014],[54.9,1.001],
  [12,1.0],[14,1.004],[16,1.002],[18,1.006],[20,1.0],[21.2,1.004],[23.2,1.0],[25,1.004],[27.2,1.008],[29.6,1.006],[32.4,1.008],[34.8,1.004],[37.2,1.008],[40,1.004],[43,1.01]]
const goteborgFill = [[9,1.008],[10.8,.998],[13,1.016],[15,1.004],[17,.996],[19.2,1.01],[21.6,1.02],[22.4,1.002],[24,1.014],[26,1.006],[28,1.016],[30.4,1.01],[31.6,1.0],[34,1.02],[36,1.0],[38.4,1.012],[40.8,1.004],[42.4,1.02],[45.2,1.014],[47.2,1.01],[49.2,1.006],[51.2,1.0],[53.2,1.008]]
const visbyPts = [[8,1.0],[8.5,1.012],[9,.99],[9.3,.96],[9.5,1.024],[10,1.004],[10.5,.985],[10.9,.949],[11,1.016],[11.5,.996],[12,1.028],[12.5,1.008],[13,.98],[13.6,1.044],[13.5,1.018],[14,.994],[14.5,1.01],[15,.985],[15.5,1.022],[16,1.002],[16.5,.99],[17,1.015],[17.5,1.03],[18,.996],[18.5,1.008],[19,.982],[19.5,1.02],[20,1.0],[20.8,1.042],[20.5,.99],[21,1.012],[21.5,1.026],[22,.996],[22.5,1.006],[23,.986],[23.5,1.018],[24,1.0],[24.5,1.028],[25,.992],[25.6,1.039],[25.5,1.01],[26,.995],[26.6,1.05],[26.5,1.016],[27,1.002],[27.5,.985],[28,1.022],[28.5,1.006],[29,.992],[29.5,1.014],[30,1.026],[30.5,1.0],[31,.988],[31.5,1.012],[32,1.02],[32.5,.996],[33,1.008],[33.5,.984],[34,1.016],[34.5,1.002],[35,1.024],[35.5,.994],[36,1.01],[36.4,.972],[36.8,1.047],[36.5,1.0],[37,1.018],[37.5,.99],[38,1.006],[38.5,1.014],[39,.994],[39.5,1.002],[40,1.02],[40.5,.986],[41,1.008],[41.5,1.0],[42,1.014],[42.5,.994],[43,1.006],[43.5,1.016],[44,.99],[44.5,1.002],[45,1.012],[45.5,.996],[46,1.008],[46.5,1.018],[47,.99],[47.5,1.004],[48.4,1.033],[48,1.01],[48.5,.994],[49,1.006],[49.5,1.014],[50,.998],[50.5,1.008],[51.1,.977],[51,1.016],[51.5,1.0],[52,1.01],[52.5,.994],[53,1.006],[53.5,1.014],[54.2,.985],[54,1.002],[54.5,1.012],[55,.996],[55.5,1.008],[55.7,1.018],
  [9.8,1.006],[11.2,1.0],[12.8,.994],[14.2,1.004],[15.8,1.01],[17.2,.998],[18.8,1.0],[20.2,1.008],[21.8,1.0],[23.2,1.008],[24.8,1.004],[26.2,1.0],[27.8,1.008],[29.2,1.004],[31.2,1.0],[33.2,1.004],[35.2,1.006],[38.2,1.0],[41.2,1.004],[44.2,1.008],[47.2,1.002],[50.2,1.004],[53.2,1.0]]
const visbyFill = [[8.8,1.004],[10.2,1.014],[11.8,1.006],[13.2,1.0],[14.8,1.02],[16.2,1.01],[17.8,1.004],[19.2,1.012],[20.8,.998],[22.2,1.016],[23.8,1.004],[25.2,1.022],[26.8,1.008],[28.2,1.0],[29.8,1.006],[31.8,1.016],[33.8,1.0],[35.8,1.014],[37.8,1.0],[39.8,1.008],[42.2,1.004],[44.8,1.006],[46.8,1.0],[49.2,1.004],[51.8,1.008],[54.8,1.006]]
const vaxjoPts = [[6.9,1.03],[7,1.004],[7.4,.99],[7.8,1.012],[8.1,.982],[8.4,1.0],[8.7,1.018],[9,.994],[9.3,1.008],[9.6,.978],[9.9,1.022],[10.2,1.002],[10.5,.988],[10.8,1.014],[11.1,.996],[11.4,1.026],[11.7,.984],[12,1.006],[12.5,1.07],[12.3,.992],[13,1.055],[12.6,1.016],[12.9,.998],[13.2,.976],[14,1.041],[13.5,1.01],[13.8,.99],[14.1,1.02],[14.4,1.0],[14.7,.982],[15,1.012],[15.3,.994],[15.6,1.024],[15.9,1.004],[16.2,.986],[16.5,1.016],[16.8,.998],[17.1,1.008],[17.4,.978],[17.7,1.02],[18,1.0],[18.3,.99],[18.6,1.012],[18.9,.996],[19.2,1.024],[19.5,1.004],[19.8,.984],[20.1,1.014],[20.4,.994],[20.7,1.006],[21,.976],[21.3,1.02],[21.8,.953],[21.6,1.0],[21.9,.988],[22.2,1.012],[22.5,.996],[22.8,1.026],[23.1,1.004],[23.7,.964],[23.4,.984],[23.7,1.014],[24,.998],[24.7,1.058],[24.3,1.008],[24.6,.99],[24.9,1.018],[25.2,1.0],[25.5,.986],[25.8,1.01],[26.1,.996],[26.4,1.022],[26.7,1.004],[27,.982],[27.3,1.012],[27.6,.994],[27.9,1.006],[28.2,.978],[28.5,.887],[28.5,1.016],[28.8,1.0],[29.1,.99],[29.4,1.01],[29.7,.996],[30,1.02],[30.3,1.002],[30.6,.984],[31.2,.967],[30.9,1.012],[31.2,.994],[31.5,1.006],[31.8,.98],[32.3,1.053],[32.1,1.016],[32.4,.998],[32.7,1.008],[33,.988],[33.3,1.02],[33.6,1.0],[33.9,.99],[34.2,1.012],[34.5,.996],[34.8,1.006],[35.1,.982],[35.4,1.016],[35.7,1.0],[36.5,1.066],[36,.99],[36.3,1.01],[36.6,.994],[36.9,1.004],[37.2,.978],[37.5,1.014],[37.8,1.0],[38.1,.988],[38.4,1.02],[38.7,1.004],[39,.992],[39.3,1.01],[39.6,.998],[39.9,.982],[40.4,1.039],[40.2,1.012],[40.5,1.0],[40.8,.99],[41.1,1.016],[41.4,1.004],[41.7,.994],[42,1.01],[42.3,.984],[42.6,1.002],[42.9,1.014],[43.9,.963],[43.2,.996],[43.5,1.006],[43.8,.99],[44.1,1.018],[44.4,1.0],[44.7,.986],[45,1.008],[45.3,.996],[45.6,1.012],[46.3,.969],[45.9,1.0],[46.2,.99],[46.5,1.008],[46.8,.996],[47.1,1.016],[47.4,1.002],[47.7,.99],[48,1.006],[48.3,.996],[48.6,1.012],[48.9,1.0],[49.2,.988],[49.5,1.004],[50.5,1.031],[49.8,1.014],[50.1,.996],[50.4,1.006],[50.7,.99],[51,1.002],[51.3,1.012],[51.6,.994],[51.9,1.004],[52.4,.983],[52.2,1.016],[52.5,.998],[52.8,1.008],[53.1,.99],[53.4,1.0],[53.7,1.012],[54,.994],[54.3,1.006],[54.6,.988],[55,1.0],[55.5,1.01],[56.1,1.019],[56.1,.996],[56,.986],
  [8,1.004],[9.5,1.0],[11,1.004],[12.5,1.0],[14,1.004],[15.5,.998],[17,1.004],[18.5,1.0],[20,1.004],[21.5,1.006],[23,.998],[24.5,1.002],[26,1.004],[27.5,1.0],[29,1.004],[30.5,.998],[32,1.002],[35,1.004],[38,1.0],[41,1.002],[44,1.004],[47,1.0]]
const vaxjoFill = [[7.6,1.0],[8.2,1.014],[8.8,.988],[9.4,1.016],[10,.996],[10.6,1.006],[11.2,.986],[11.8,1.012],[12.4,1.002],[13,.99],[13.6,1.018],[14.2,.996],[14.8,1.006],[15.4,.984],[16,1.012],[16.6,1.0],[17.2,.99],[17.8,1.01],[18.4,1.018],[19,.988],[19.6,1.008],[20.2,.998],[20.8,1.016],[21.4,.99],[22,1.004],[22.6,.984],[23.2,1.016],[23.8,1.0],[24.4,.99],[25,1.01],[25.6,1.0],[26.2,.988],[26.8,1.014],[27.4,1.0],[28,.99],[28.6,1.008],[29.2,1.0],[29.8,.986],[30.4,1.014],[31,1.0],[31.6,.99],[32.2,1.006],[32.8,.996],[33.4,1.014],[34,1.0],[34.6,.988],[35.2,1.008],[35.8,1.016],[36.4,1.0],[37,.99],[37.6,1.006],[38.2,.996],[38.8,1.014],[39.4,1.0],[40,.99],[40.6,1.008],[41.2,.996],[41.8,1.014],[42.4,1.0],[43,.99],[43.6,1.012],[44.2,.996],[44.8,1.004],[45.4,.99],[46,1.014],[46.6,1.0],[47.2,.99],[47.8,1.012],[48.4,1.0],[49,.994],[49.6,1.006],[50.2,1.012],[50.8,1.0],[51.4,.99],[52,1.008],[52.6,.996],[53.2,1.014],[53.8,1.0],[54.4,.994],[55,1.012],[55.6,1.0]]
const lundPts = [[7.2,.973],[7.5,1.016],[7.8,.995],[8.1,1.006],[8.4,.988],[8.7,1.012],[9,1.0],[9.3,.984],[9.6,1.018],[9.9,.996],[10.2,1.008],[10.5,.98],[10.8,1.002],[11.1,1.014],[11.4,.992],[11.7,1.022],[12,1.004],[12.3,.986],[12.6,1.012],[13,.956],[12.9,.996],[13.2,1.006],[13.5,.978],[13.8,1.016],[14.1,1.0],[14.4,.99],[14.7,1.024],[15,1.008],[15.3,.984],[15.6,1.012],[15.9,.996],[16.2,1.004],[16.5,.976],[16.8,1.018],[17.1,1.0],[17.4,.99],[17.7,1.026],[18,1.008],[18.3,.986],[18.6,1.014],[18.9,.996],[19.2,1.006],[19.5,.98],[19.8,1.02],[20.1,1.002],[20.4,.99],[20.7,1.012],[21,.996],[21.9,1.044],[21.3,1.022],[21.6,1.004],[21.9,.984],[22.2,1.01],[22.5,.994],[22.8,1.006],[23.1,.978],[23.4,1.016],[23.7,1.0],[24,.99],[24.3,1.014],[24.6,.998],[24.9,1.024],[25.2,1.004],[25.5,.986],[25.8,1.01],[26.1,.996],[26.4,1.006],[26.7,.98],[27,1.018],[27.3,1.0],[27.6,.992],[27.9,1.012],[28.2,.996],[28.5,1.004],[28.8,.984],[29.1,1.016],[29.4,1.0],[29.7,.99],[30,1.01],[30.3,.996],[30.6,1.022],[31.2,1.055],[30.9,1.004],[32.2,1.072],[31.2,.986],[31.5,1.012],[31.8,.996],[32.1,1.006],[32.4,.98],[32.7,1.016],[33,1.0],[33.3,.99],[33.6,1.014],[33.9,.998],[34.2,1.004],[34.5,.984],[34.8,1.012],[35.1,.996],[35.4,1.02],[35.7,1.002],[36.4,1.035],[36,.988],[36.3,1.01],[36.6,.996],[36.9,1.006],[37.2,.978],[37.5,1.016],[37.8,1.0],[38.1,.99],[38.6,.964],[38.4,1.012],[38.7,.996],[39,1.006],[39.8,1.04],[39.3,.984],[39.6,1.014],[39.9,1.0],[40.2,.992],[40.5,1.01],[40.8,.996],[41.1,1.004],[41.4,.98],[41.7,1.016],[42,1.0],[42.3,.99],[42.6,1.012],[42.9,.994],[43.2,1.006],[43.5,.976],[43.8,1.018],[44.1,1.0],[44.4,.988],[44.7,1.01],[45,.996],[45.6,1.056],[45.3,1.02],[45.6,1.002],[45.9,.986],[46.2,1.012],[46.5,.996],[46.8,1.006],[47.1,.98],[47.9,.968],[48.7,.961],[47.4,1.016],[47.7,1.0],[48,.99],[48.3,1.014],[48.6,1.0],[49.7,1.076],[48.9,1.022],[49.2,.994],[49.5,1.008],[49.8,.986],[51,1.04],[50.1,1.014],[50.4,1.0],[50.7,.99],[51,1.012],[51.3,.996],[51.6,1.02],[51.9,1.004],[52.2,.984],[52.5,1.01],[52.8,.996],[53.1,1.016],[53.4,1.002],[53.7,.99],[54,1.024],[54.3,1.006],[54.6,.994],[54.9,1.012],[55.2,1.0],[55.5,1.022],[55.8,.99],[56.1,1.008],[56.5,1.018],[56.8,.98],[57,1.0],[57.3,1.01],
  [8.5,1.0],[10,.996],[11.5,1.004],[13,1.0],[14.5,1.004],[16,.996],[17.5,1.002],[19,1.0],[20.5,1.004],[22,.998],[23.5,1.004],[25,.996],[26.5,1.002],[28,1.0],[29.5,1.004],[31,.998],[34,1.002],[37,1.0],[40,1.004],[43,.998],[46,1.002],[49,1.0],[52,1.004],[55,1.0]]
const lundFill = [[8,.998],[8.6,1.008],[9.2,.99],[9.8,1.012],[10.4,.994],[11,1.006],[11.6,.988],[12.2,1.016],[12.8,1.0],[13.4,.99],[14,1.01],[14.6,.996],[15.2,1.018],[15.8,1.002],[16.4,.988],[17,1.012],[17.6,1.0],[18.2,.992],[18.8,1.016],[19.4,1.004],[20,.99],[20.6,1.008],[21.2,.996],[21.8,1.016],[22.4,1.0],[23,.99],[23.6,1.01],[24.2,.998],[24.8,.988],[25.4,1.014],[26,1.0],[26.6,.99],[27.2,1.008],[27.8,.998],[28.4,1.016],[29,.99],[29.6,1.006],[30.2,.996],[30.8,1.014],[31.4,1.0],[32,.99],[32.6,1.006],[33.2,1.0],[33.8,.988],[34.4,1.012],[35,1.0],[35.6,.99],[36.2,1.004],[36.8,.996],[37.4,1.008],[38,.988],[38.6,1.006],[39.2,.996],[39.8,1.01],[40.4,1.0],[41,.99],[41.6,1.006],[42.2,.996],[42.8,1.01],[43.4,1.0],[44,.99],[44.6,1.004],[45.2,.99],[45.8,1.014],[46.4,1.0],[47,.99],[47.6,1.008],[48.2,.996],[48.8,1.006],[49.4,.99],[50,1.004],[50.6,1.012],[51.2,.99],[51.8,1.0],[52.4,1.014],[53,.994],[53.6,1.008],[54.2,.996],[54.8,1.004],[55.4,.99],[56,1.0],[56.6,1.01],[57.2,.99]]

const greenSets = [kirunaPts.concat(kirunaFill), lulePts.concat(luleFill), umeaPts.concat(umeaFill), ostersundPts.concat(ostersundFill),
    borlangePts.concat(borlangeFill), karlstadPts.concat(karlstadFill), stockholmPts.concat(stockholmFill), norrkopingPts.concat(norrkopingFill),
    goteborgPts.concat(goteborgFill), visbyPts.concat(visbyFill), vaxjoPts.concat(vaxjoFill), lundPts.concat(lundFill)]
const blackSets = [[], [], umeaBlack, ostersundBlack, [], [], [], [], [], [], [], []]

const colLeft = [46, 388, 729]
const rowTop = [44, 425, 806, 1188]
const plotW = 258
const plotH = 275

const svg = d3.select('#chart').append('svg')
    .attr('width', 1001)
    .attr('height', 1492)
svg.append('rect').attr('width', 1001).attr('height', 1492).attr('fill', '#fff')

stations.forEach(function(name, i) {
    const left = colLeft[i % 3]
    const top = rowTop[Math.floor(i / 3)]
    const x = d3.scaleLinear().domain([0, 60]).range([left, left + plotW])
    const y = d3.scaleLinear().domain([0.8, 1.2]).range([top + plotH, top])
    const g = svg.append('g')

    const grid = g.append('g').attr('class', 'grid')
    grid.selectAll('.gx').data(xGrid).enter().append('line') // vertical dotted grid
        .attr('x1', d => x(d)).attr('x2', d => x(d))
        .attr('y1', top).attr('y2', top + plotH)
    grid.selectAll('.gy').data(yGrid).enter().append('line') // horizontal dotted grid
        .attr('x1', left).attr('x2', left + plotW)
        .attr('y1', d => y(d)).attr('y2', d => y(d))

    g.append('g') // x axis, ticks pointing inwards
        .attr('transform', `translate(0,${top + plotH})`)
        .call(d3.axisBottom(x).tickValues(xTicks).tickSize(-4).tickPadding(11).tickFormat(d3.format('d')))
        .call(a => a.select('.domain').remove())
    g.append('g') // y axis
        .attr('transform', `translate(${left},0)`)
        .call(d3.axisLeft(y).tickValues(yTicks).tickSize(-4).tickPadding(5).tickFormat(d => String(d)))
        .call(a => a.select('.domain').remove())
    g.append('g') // mirrored ticks on top
        .attr('transform', `translate(0,${top})`)
        .call(d3.axisTop(x).tickValues(xTicks).tickSize(-4).tickFormat(''))
        .call(a => a.select('.domain').remove())
    g.append('g') // mirrored ticks on right
        .attr('transform', `translate(${left + plotW},0)`)
        .call(d3.axisRight(y).tickValues(yTicks).tickSize(-4).tickFormat(''))
        .call(a => a.select('.domain').remove())

    g.append('g').selectAll('circle') // black points (extra series)
        .data(blackSets[i]).enter().append('circle')
        .attr('cx', d => x(d[0])).attr('cy', d => y(d[1]))
        .attr('r', 2.5).attr('fill', '#111')
    g.append('g').selectAll('circle') // green points
        .data(greenSets[i]).enter().append('circle')
        .attr('cx', d => x(d[0])).attr('cy', d => y(d[1]))
        .attr('r', 2.6).attr('fill', '#1ef01e')

    g.append('rect') // axes box
        .attr('x', left).attr('y', top)
        .attr('width', plotW).attr('height', plotH)
        .attr('fill', 'none').attr('stroke', '#555').attr('stroke-width', 1)

    g.append('text') // station title
        .attr('x', left + plotW / 2).attr('y', top - 16)
        .attr('text-anchor', 'middle')
        .style('font-size', '19.5px').style('fill', '#222')
        .text(name)
    g.append('text')
        .attr('x', left + 6).attr('y', top + 24)
        .style('font-size', '17px').style('fill', '#333')
        .text('All cloudy hours')
    g.append('text')
        .attr('x', left + 178).attr('y', top + 24)
        .style('font-size', '17px').style('fill', '#333')
        .text(`N= ${nValues[i]}`)
    const sum = g.append('text')
        .attr('x', left + 6).attr('y', top + 54)
        .style('font-size', '17px').style('fill', '#333')
    sum.append('tspan').text('Sum(G')
    sum.append('tspan').attr('dy', 8).style('font-size', '13px').text('old')
    sum.append('tspan').attr('dy', -8).text(')/Sum(G')
    sum.append('tspan').attr('dy', 8).style('font-size', '13px').text('new')
    sum.append('tspan').attr('dy', -8).text(`)= ${ratios[i]}`)
})
</script>
</body>
</html>
